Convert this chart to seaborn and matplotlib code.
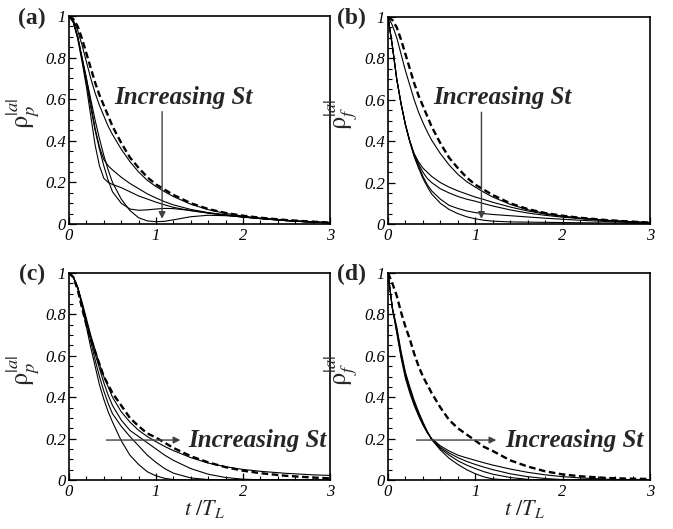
import numpy as np
import pandas as pd
import matplotlib
matplotlib.use("Agg")
import matplotlib.pyplot as plt
import seaborn as sns

# ---------------- data ----------------
T = [0, .05, .1, .15, .2, .25, .3, .35, .4, .45, .5, .6, .7, .8, .9, 1.0,
     1.1, 1.2, 1.4, 1.6, 1.8, 2.0, 2.2, 2.5, 2.8, 3.0]

fluid_ab = [1.0, .985, .95, .89, .82, .75, .68, .62, .57, .52, .47, .39, .32, .27, .225, .19,
            .165, .14, .10, .072, .053, .04, .03, .019, .011, .007]

a_A = [1.0, .98, .93, .86, .78, .70, .63, .57, .52, .47, .43, .36, .30, .25, .21, .18,
       .155, .132, .095, .069, .051, .038, .028, .018, .010, .006]
a_B = [1.0, .97, .90, .80, .70, .58, .46, .37, .31, .28, .26, .225, .195, .17, .145, .125,
       .107, .092, .07, .055, .044, .034, .026, .016, .009, .006]
a_C = [1.0, .97, .89, .78, .66, .52, .38, .28, .22, .20, .19, .175, .155, .135, .12, .105,
       .092, .08, .064, .052, .042, .033, .026, .016, .009, .006]
a_D = [1.0, .97, .90, .79, .68, .56, .45, .36, .28, .21, .155, .10, .072, .066, .068, .072,
       .075, .074, .065, .053, .043, .034, .026, .016, .009, .006]
a_E = [1.0, .97, .90, .80, .70, .60, .50, .41, .33, .26, .20, .12, .065, .03, .015, .011,
       .013, .02, .035, .042, .04, .034, .027, .017, .010, .006]

b_A = [1.0, .96, .90, .82, .74, .67, .60, .54, .49, .445, .405, .34, .285, .24, .205, .178,
       .153, .13, .095, .069, .051, .038, .028, .018, .010, .006]
b_B = [1.0, .86, .70, .58, .48, .40, .34, .30, .27, .25, .23, .20, .178, .16, .145, .13,
       .118, .105, .082, .063, .048, .037, .028, .018, .010, .007]
b_C = [1.0, .86, .70, .58, .48, .40, .335, .29, .25, .22, .20, .17, .15, .133, .12, .11,
       .098, .087, .068, .053, .042, .033, .026, .017, .010, .006]
b_D = [1.0, .86, .70, .58, .48, .40, .33, .28, .23, .19, .16, .12, .09, .075, .063, .055,
       .05, .046, .04, .034, .028, .023, .018, .012, .007, .005]
b_E = [1.0, .86, .70, .58, .475, .395, .325, .27, .22, .18, .145, .10, .07, .05, .035, .025,
       .018, .014, .010, .009, .008, .007, .006, .005, .004, .003]

fluid_c = [1.0, .98, .92, .83, .75, .68, .62, .56, .50, .46, .42, .36, .30, .26, .225, .205,
           .18, .155, .115, .085, .062, .045, .033, .02, .012, .008]
c_1 = [1.0, .98, .93, .84, .74, .64, .55, .46, .39, .33, .28, .19, .12, .075, .04, .02,
       .008, .002, 0, 0, 0, 0, 0, 0, 0, 0]
c_2 = [1.0, .98, .93, .85, .76, .67, .58, .50, .43, .37, .32, .26, .21, .165, .12, .085,
       .055, .033, .01, .002, 0, 0, 0, 0, 0, 0]
c_3 = [1.0, .98, .93, .85, .77, .69, .61, .54, .47, .41, .36, .29, .24, .21, .18, .15,
       .12, .095, .055, .028, .012, .004, .001, 0, 0, 0]
c_4 = [1.0, .98, .93, .86, .78, .70, .63, .56, .50, .45, .40, .33, .28, .24, .21, .185,
       .162, .142, .108, .082, .064, .051, .042, .032, .025, .022]

fluid_d = [1.0, .95, .89, .81, .74, .68, .61, .55, .50, .46, .42, .35, .29, .25, .22, .19,
           .16, .14, .095, .065, .042, .027, .018, .01, .006, .005]
d_1 = [1.0, .83, .74, .62, .52, .45, .385, .33, .28, .235, .195, .145, .105, .075, .05, .03,
       .015, .005, 0, 0, 0, 0, 0, 0, 0, 0]
d_2 = [1.0, .83, .73, .61, .51, .44, .375, .32, .275, .232, .197, .152, .12, .093, .072, .055,
       .04, .028, .012, .003, 0, 0, 0, 0, 0, 0]
d_3 = [1.0, .83, .72, .60, .50, .43, .368, .315, .27, .23, .198, .158, .13, .108, .09, .075,
       .062, .05, .03, .016, .007, .002, 0, 0, 0, 0]
d_4 = [1.0, .83, .71, .59, .49, .42, .36, .31, .265, .228, .20, .165, .14, .12, .107, .095,
       .083, .072, .053, .037, .025, .016, .01, .004, .001, 0]

x_ticks = [0, 1, 2, 3]
x_ticklabels = ["0", "1", "2", "3"]
y_ticks = [0, 0.2, 0.4, 0.6, 0.8, 1.0]
y_ticklabels = ["0", "0.2", "0.4", "0.6", "0.8", "1"]
panel_labels = ["(a)", "(b)", "(c)", "(d)"]
ylabels = [r"$\mathrm{\rho}_{p}^{|a|}$", r"$\mathrm{\rho}_{f}^{|a|}$",
           r"$\mathrm{\rho}_{p}^{|a|}$", r"$\mathrm{\rho}_{f}^{|a|}$"]
xlabel = r"$t\ /T_L$"
annot_text = "Increasing St"

panels = [
    (fluid_ab, [a_A, a_B, a_C, a_D, a_E]),
    (fluid_ab, [b_A, b_B, b_C, b_D, b_E]),
    (fluid_c, [c_1, c_2, c_3, c_4]),
    (fluid_d, [d_1, d_2, d_3, d_4]),
]

# ---------------- style ----------------
sns.set_style("ticks")
plt.rcParams["font.family"] = ["Liberation Serif", "DejaVu Serif"]
plt.rcParams["mathtext.fontset"] = "stix"

W, H = 673, 529
fig = plt.figure(figsize=(W / 100, H / 100), dpi=100)

# axes rectangles in pixel coords (left, top, right, bottom)
rects = [(69, 16, 330, 224), (388, 17, 650, 224), (69, 273, 330, 480), (388, 273, 650, 480)]
label_pos = [(32, 18), (351, 18), (32, 274), (351, 274)]

for i, (rect, (fluid, sols)) in enumerate(zip(rects, panels)):
    l, t, r, b = rect
    ax = fig.add_axes([l / W, 1 - b / H, (r - l) / W, (b - t) / H])
    for s in sols:
        sns.lineplot(x=T, y=s, ax=ax, color="black", linewidth=0.8, legend=False)
    sns.lineplot(x=T, y=fluid, ax=ax, color="black", linewidth=1.7,
                 linestyle=(0, (2.8, 1.5)), legend=False)
    ax.set_xlim(0, 3)
    ax.set_ylim(0, 1)
    ax.set_xticks(x_ticks)
    ax.set_xticklabels(x_ticklabels, fontstyle="italic", fontsize=12)
    ax.set_yticks(y_ticks)
    ax.set_yticklabels(y_ticklabels, fontstyle="italic", fontsize=12)
    ax.set_xticks(np.arange(0, 3.01, 0.2), minor=True)
    ax.set_yticks(np.arange(0, 1.001, 0.05), minor=True)
    ax.tick_params(which="both", direction="in", top=False, right=False, colors="black")
    ax.tick_params(which="major", length=5, width=0.9, pad=2)
    ax.tick_params(which="minor", length=3, width=0.8)
    ax.tick_params(axis="x", pad=3)
    for sp in ax.spines.values():
        sp.set_linewidth(1.2)
        sp.set_color("black")
    ax.set_ylabel(ylabels[i], fontsize=19, labelpad=0)
    ax.yaxis.set_label_coords(-0.105, 0.53)
    if i >= 2:
        ax.set_xlabel(xlabel, fontsize=16)
        ax.xaxis.set_label_coords(0.52, -0.085)
    else:
        ax.set_xlabel("")

    if i < 2:
        ax.annotate("", xy=(1.07, 0.025), xytext=(1.07, 0.54),
                    arrowprops=dict(arrowstyle="-|>", color="0.25", lw=1.0,
                                    mutation_scale=10, shrinkA=0, shrinkB=0))
        ax.text(0.52, 0.61, annot_text, fontsize=18, fontweight="bold",
                fontstyle="italic", ha="left", va="center")
    else:
        x0, x1, xt = (0.43, 1.28, 1.37) if i == 2 else (0.325, 1.24, 1.34)
        ax.annotate("", xy=(x1, 0.193), xytext=(x0, 0.193),
                    arrowprops=dict(arrowstyle="-|>", color="0.25", lw=1.0,
                                    mutation_scale=10, shrinkA=0, shrinkB=0))
        ax.text(xt, 0.193, annot_text, fontsize=18, fontweight="bold",
                fontstyle="italic", ha="left", va="center", clip_on=False)

    lx, ly = label_pos[i]
    fig.text(lx / W, 1 - ly / H, panel_labels[i], fontsize=17, fontweight="bold",
             ha="center", va="center")

fig.savefig("out.png", dpi=100)
